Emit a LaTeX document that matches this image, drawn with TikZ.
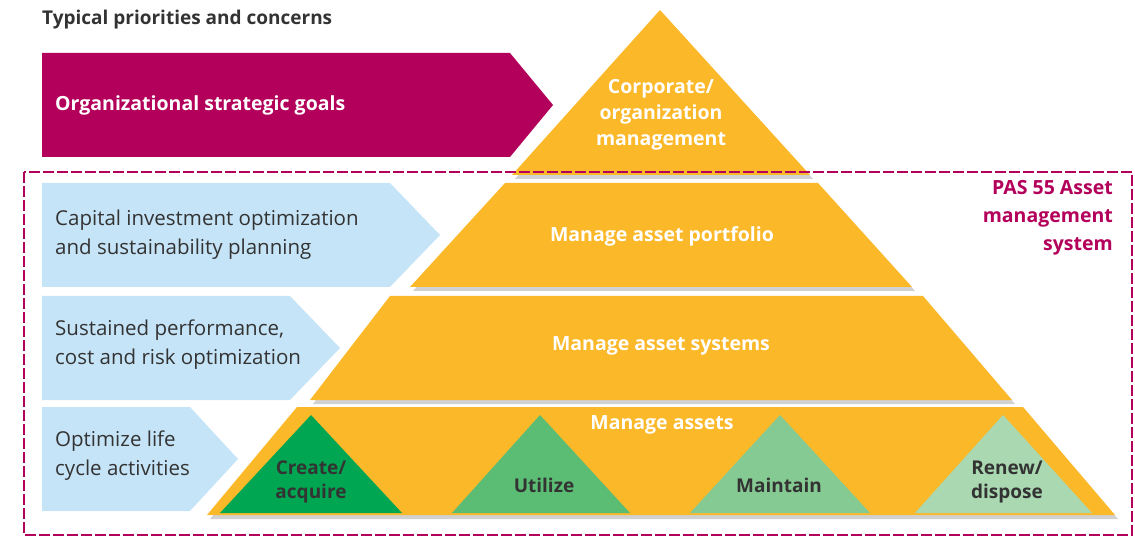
\documentclass[tikz,border=0pt]{standalone}
\usepackage{fontspec}
\setmainfont{Open Sans}
\usetikzlibrary{shadows}
\definecolor{mag}{HTML}{B3005A}
\definecolor{orng}{HTML}{FBB829}
\definecolor{lblue}{HTML}{C6E4F7}
\definecolor{dgray}{HTML}{333333}
\definecolor{gA}{HTML}{00A651}
\definecolor{gB}{HTML}{5BBD74}
\definecolor{gC}{HTML}{86CA93}
\definecolor{gD}{HTML}{A9D8B1}
\tikzset{
  shad/.style={drop shadow={shadow xshift=3pt,shadow yshift=-4pt,opacity=.18,fill=black}},
  whitetxt/.style={text=white,font=\fontsize{19.5}{26}\selectfont\bfseries,align=center,inner sep=0pt},
  graytxt/.style={text=dgray,font=\fontsize{20.5}{29}\selectfont,align=left,inner sep=0pt,anchor=west},
  smalltxt/.style={text=dgray,font=\fontsize{19}{24}\selectfont\bfseries,align=center,inner sep=0pt},
  blueshape/.style={fill=lblue},
  orgshape/.style={fill=orng,shad},
}
\begin{document}
\begin{tikzpicture}[x=1pt,y=-1pt]
\useasboundingbox (0,0) rectangle (1135,537);
% title
\node[anchor=west,inner sep=0pt,text=dgray,font=\fontsize{19}{22}\selectfont\bfseries] (title) at (42,20) {Typical priorities and concerns};
% magenta arrow
\fill[mag] (42,53) -- (510,53) -- (553,105) -- (510,157) -- (42,157) -- cycle;
\node[whitetxt,anchor=west] (goals) at (55,105) {Organizational strategic goals};
% top triangle
\fill[orgshape] (660,10) -- (810,175) -- (512,175) -- cycle;
\node[whitetxt] (corp) at (661,115) {Corporate/\\organization\\management};
% level 2
\fill[blueshape] (42,183) -- (390,183) -- (440,235) -- (390,287) -- (42,287) -- cycle;
\fill[orgshape] (505,183) -- (818,183) -- (912,287) -- (410,287) -- cycle;
\node[graytxt] (cap) at (55,235) {Capital investment optimization\\and sustainability planning};
\node[whitetxt] (port) at (662,236) {Manage asset portfolio};
% level 3
\fill[blueshape] (42,296) -- (290,296) -- (340,348) -- (290,400) -- (42,400) -- cycle;
\fill[orgshape] (390,296) -- (923,296) -- (1012,400) -- (310,400) -- cycle;
\node[graytxt] (sust) at (55,345) {Sustained performance,\\cost and risk optimization};
\node[whitetxt] (sys) at (661,346) {Manage asset systems};
% level 4
\fill[blueshape] (42,407) -- (190,407) -- (238,459) -- (190,511) -- (42,511) -- cycle;
\fill[orgshape] (297,407) -- (1023,407) -- (1115,515) -- (207,515) -- cycle;
\node[graytxt] (life) at (55,456) {Optimize life\\cycle activities};
\node[whitetxt] (assets) at (662,425) {Manage assets};
% small triangles
\fill[gA] (311,415) -- (402,513) -- (220,513) -- cycle;
\fill[gB] (540,415) -- (630,513) -- (452,513) -- cycle;
\fill[gC] (780,415) -- (870,513) -- (690,513) -- cycle;
\fill[gD] (1003,415) -- (1092,513) -- (915,513) -- cycle;
\node[smalltxt] (create) at (311,482) {Create/\\acquire};
\node[smalltxt] (util) at (544,485) {Utilize};
\node[smalltxt] (maint) at (779,485) {Maintain};
\node[smalltxt] (renew) at (1007,482) {Renew/\\dispose};
% dashed box
\draw[mag,line width=2.8pt,dash pattern=on 11pt off 3pt] (24,172) rectangle (1132,535);
\node[anchor=north east,align=right,inner sep=0pt,text=mag,font=\fontsize{19.5}{28}\selectfont\bfseries] (pas) at (1113,180) {PAS 55 Asset\\management\\system};
\end{tikzpicture}
\end{document}
